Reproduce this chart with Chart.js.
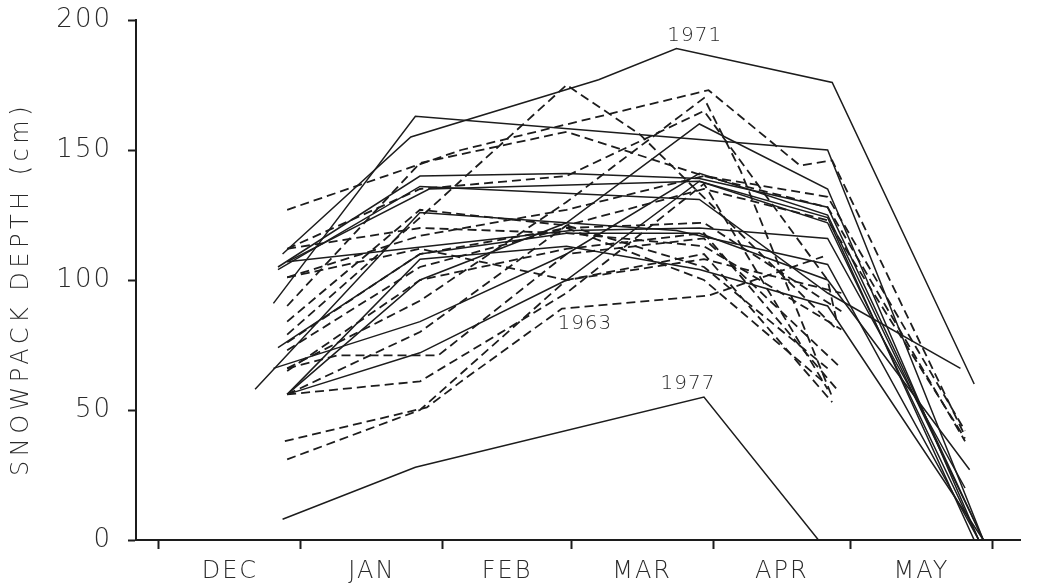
<!DOCTYPE html>
<html>
<head>
<meta charset="utf-8">
<script src="https://cdn.jsdelivr.net/npm/chart.js@4/dist/chart.umd.min.js"></script>
<style>
  html, body { margin: 0; background: #fff; }
</style>
</head>
<body>
<canvas id="snowChart" width="1058" height="588"></canvas>
<script>
// x values are days counted from 1 December, y values are snowpack depth in cm
const monthNames = ['DEC', 'JAN', 'FEB', 'MAR', 'APR', 'MAY'];
const monthStarts = [0, 31, 62, 90, 121, 151, 182];
const depthTicks = [0, 50, 100, 150, 200];
const depthTitle = 'SNOWPACK DEPTH (cm)';

// labelled years
const run1971 = [[27, 110], [55, 155], [96, 177], [113, 189], [147, 176], [178, 60]];
const run1977 = [[27, 8], [56, 28], [119, 55], [144, 0]];
const run1963 = [[27.5, 38], [58.5, 51], [66, 61], [88, 89], [120, 94], [145, 109]];

// other years, solid traces
const solidA = [[25, 91], [56, 163], [146, 150], [180, 0]];
const solidB = [[21, 58], [57, 126], [113, 119], [146, 106], [179, 0]];
const solidC = [[26, 105], [57, 140], [89, 141], [118, 139], [146, 128], [180, 0]];
const solidD = [[28, 107], [59, 135], [118, 138], [146, 122], [179, 0]];
const solidE = [[28, 107], [90, 119], [118, 120], [146, 116], [176, 20]];
const solidF = [[28, 56], [57, 100], [89, 122], [118, 160], [146, 135], [179, 0]];
const solidG = [[28, 56], [57, 72], [89, 100], [118, 138], [146, 124], [178, 0]];
const solidH = [[25, 66], [57, 84], [89, 110], [118, 141], [146, 125], [180, 0]];
const solidI = [[26, 74], [57, 110], [89, 118], [118, 118], [146, 100], [177, 27]];
const solidJ = [[26, 104], [57, 136], [118, 131], [146, 95], [175, 66]];
const solidK = [[28, 56], [57, 108], [89, 113], [118, 104], [146, 90], [180, 0]];

// other years, dashed traces
const dashA = [[28, 79], [57, 124], [89, 175], [105, 156], [120, 130], [148, 81]];
const dashB = [[28, 127], [66, 150], [101, 165], [120, 173], [140, 144], [147, 146], [176, 40]];
const dashC = [[28, 66], [57, 92], [89, 130], [119, 170], [127, 142], [147, 55]];
const dashD = [[28, 112], [57, 135], [89, 140], [119, 165], [146, 100], [148, 84]];
const dashE = [[28, 101], [57, 117], [89, 127], [119, 140], [146, 132], [176, 42]];
const dashF = [[28, 73], [57, 105], [89, 120], [119, 122], [149, 88]];
const dashG = [[28, 66], [39, 71], [61, 71], [89, 110], [119, 116], [149, 66]];
const dashH = [[28, 56], [57, 61], [89, 95], [119, 137], [146, 58]];
const dashI = [[28, 31], [57, 50], [89, 100], [119, 110], [147, 53]];
const dashJ = [[28, 76], [57, 110], [89, 120], [119, 100], [145, 61]];
const dashK = [[28, 101], [57, 112], [89, 100], [119, 108], [149, 95]];
const dashL = [[28, 90], [57, 145], [89, 157], [119, 140], [146, 128], [176, 38]];
const dashM = [[28, 65], [57, 100], [89, 112], [119, 118], [148, 58]];
const dashN = [[28, 112], [57, 120], [89, 118], [119, 113], [149, 81]];
const dashO = [[28, 56], [57, 80], [89, 121], [119, 135], [146, 123], [176, 39]];
const dashP = [[28, 84], [57, 127], [89, 121], [119, 105], [146, 66]];

const yearNames = ['1971', '1963', '1977'];
const yearLabelDays = [117, 93, 115.5];
const yearLabelDepths = [194, 83, 60];

const solidRuns = [run1971, run1977, solidA, solidB, solidC, solidD, solidE, solidF, solidG, solidH, solidI, solidJ, solidK];
const dashedRuns = [run1963, dashA, dashB, dashC, dashD, dashE, dashF, dashG, dashH, dashI, dashJ, dashK, dashL, dashM, dashN, dashO, dashP];

const monthMids = monthNames.map((m, i) => (monthStarts[i] + monthStarts[i + 1]) / 2);

const ink = '#1c1c1c';
const textInk = '#2a2a2a';
const face = "'DejaVu Sans', sans-serif";

const toPoints = run => run.map(([day, depth]) => ({ x: day, y: depth }));

const datasets = [
    ...solidRuns.map(run => ({
        data: toPoints(run),
        borderColor: ink,
        borderWidth: 1.5,
        pointRadius: 0,
        tension: 0
    })),
    ...dashedRuns.map(run => ({
        data: toPoints(run),
        borderColor: ink,
        borderWidth: 1.8,
        borderDash: [9, 5],
        pointRadius: 0,
        tension: 0
    }))
];

const spacedText = {
    id: 'spacedText',
    beforeDraw(chart) {
        chart.ctx.letterSpacing = '2px';
    }
};

// rotated axis title, drawn by hand so it can get its own wide letter spacing
const depthAxisTitle = {
    id: 'depthAxisTitle',
    afterDraw(chart) {
        const { ctx, chartArea } = chart;
        ctx.save();
        ctx.letterSpacing = '4.5px';
        ctx.fillStyle = textInk;
        ctx.font = `200 24px ${face}`;
        ctx.textAlign = 'center';
        ctx.textBaseline = 'middle';
        ctx.translate(22, (chartArea.top + chartArea.bottom) / 2 + 9);
        ctx.rotate(-Math.PI / 2);
        ctx.fillText(depthTitle, 0, 0);
        ctx.restore();
    }
};

const yearLabels = {
    id: 'yearLabels',
    afterDatasetsDraw(chart) {
        const { ctx, scales } = chart;
        ctx.save();
        ctx.letterSpacing = '1px';
        ctx.fillStyle = textInk;
        ctx.font = `200 20px ${face}`;
        ctx.textAlign = 'center';
        ctx.textBaseline = 'middle';
        yearNames.forEach((name, i) => {
            ctx.fillText(name, scales.x.getPixelForValue(yearLabelDays[i]), scales.y.getPixelForValue(yearLabelDepths[i]));
        });
        ctx.restore();
    }
};

const snowChart = document.getElementById('snowChart');

new Chart(snowChart, {
    type: 'line',
    data: { datasets },
    options: {
        responsive: false,
        animation: false,
        layout: { padding: { top: 20, right: 38, left: 0, bottom: 0 } },
        plugins: {
            legend: { display: false },
            tooltip: { enabled: false }
        },
        scales: {
            x: {
                type: 'linear',
                min: -5,
                max: 188,
                afterBuildTicks: scale => {
                    scale.ticks = [...monthStarts, ...monthMids].sort((a, b) => a - b).map(v => ({ value: v }));
                },
                afterFit: scale => { scale.height = 48; },
                ticks: {
                    autoSkip: false,
                    maxRotation: 0,
                    padding: 8,
                    color: textInk,
                    font: { family: face, size: 24, weight: 200 },
                    callback: value => {
                        const i = monthMids.indexOf(value);
                        return i >= 0 ? monthNames[i] : '';
                    }
                },
                grid: {
                    drawOnChartArea: false,
                    tickLength: 9,
                    tickWidth: 2,
                    tickColor: ctx => (ctx.tick && monthMids.includes(ctx.tick.value)) ? 'rgba(0,0,0,0)' : ink
                },
                border: { display: true, color: ink, width: 2 }
            },
            y: {
                min: 0,
                max: 200,
                afterBuildTicks: scale => {
                    scale.ticks = depthTicks.map(v => ({ value: v }));
                },
                afterFit: scale => {
                    scale.width = 136;
                    scale.paddingTop = 12;
                },
                ticks: {
                    padding: 16,
                    color: textInk,
                    font: { family: face, size: 26, weight: 200 }
                },
                grid: {
                    drawOnChartArea: false,
                    tickLength: 8,
                    tickWidth: 2,
                    tickColor: ink
                },
                border: { display: true, color: ink, width: 2 }
            }
        }
    },
    plugins: [spacedText, depthAxisTitle, yearLabels]
});
</script>
</body>
</html>
